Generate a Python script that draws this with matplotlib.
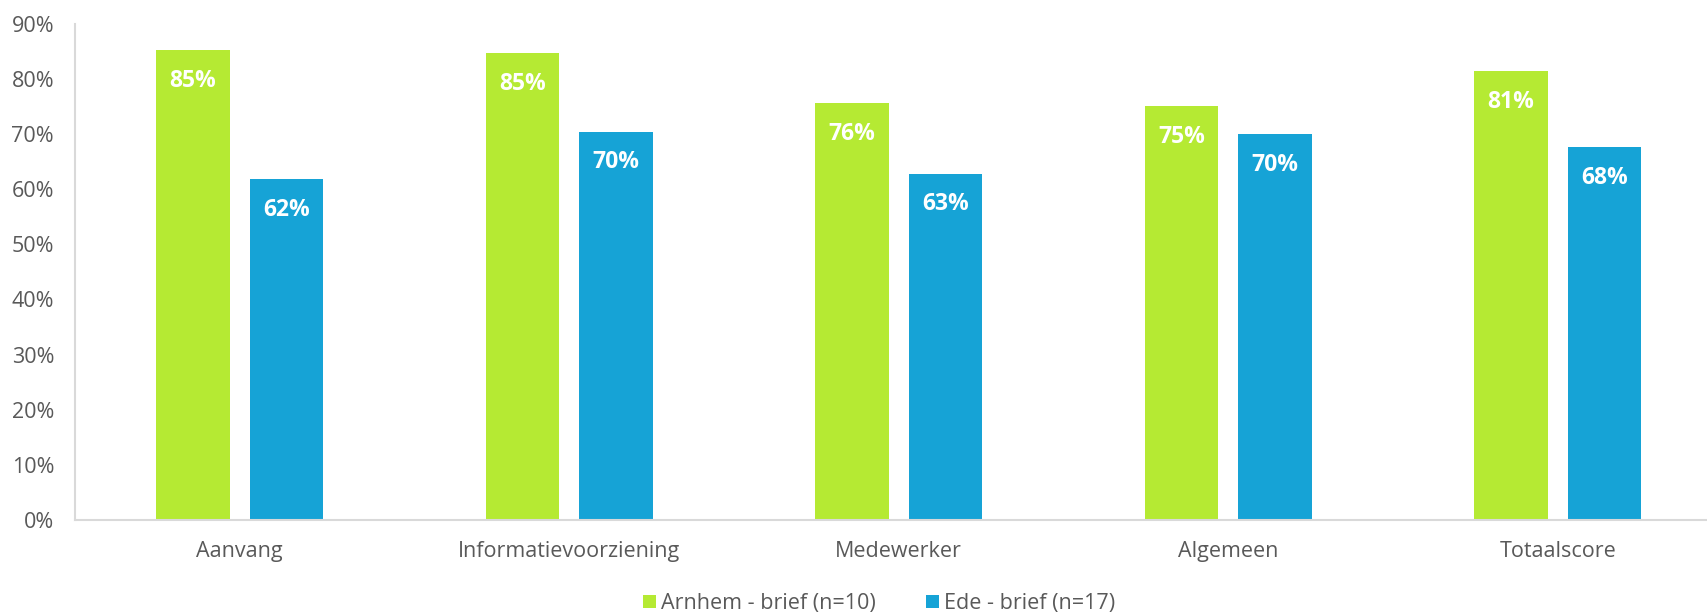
import matplotlib.pyplot as plt
import numpy as np

plt.rcParams['font.family'] = ['Open Sans', 'DejaVu Sans']

categories = ['Aanvang', 'Informatievoorziening', 'Medewerker', 'Algemeen', 'Totaalscore']
arnhem = [85.2, 84.6, 75.6, 75.0, 81.4]
ede = [61.8, 70.4, 62.8, 69.9, 67.6]
series_names = ['Arnhem - brief (n=10)', 'Ede - brief (n=17)']
yticks = [0, 10, 20, 30, 40, 50, 60, 70, 80, 90]

green = '#B5EA33'
blue = '#16A3D6'
grey_text = '#595959'

fig = plt.figure(figsize=(17.07, 6.14), dpi=100)
ax = fig.add_axes([0.0439, 0.1531, 0.9652, 0.8086])

x = np.arange(len(categories))
w = 0.223
b1 = ax.bar(x - 0.142, arnhem, w, color=green, label=series_names[0])
b2 = ax.bar(x + 0.142, ede, w, color=blue, label=series_names[1])

for bars in (b1, b2):
    for rect in bars:
        v = rect.get_height()
        ax.annotate(f'{v:.0f}%', (rect.get_x() + rect.get_width() / 2, v),
                    xytext=(0, -22), textcoords='offset points',
                    ha='center', va='center', color='white',
                    fontsize=16.5, fontweight='bold')

ax.set_xlim(-0.5, 4.5)
ax.set_ylim(0, 90)
ax.set_yticks(yticks)
ax.set_yticklabels([f'{t}%' for t in yticks])
ax.set_xticks(x)
ax.set_xticklabels(categories)
ax.tick_params(axis='both', length=0, labelsize=15.5, labelcolor=grey_text)
ax.tick_params(axis='y', pad=15)
ax.tick_params(axis='x', pad=15)

for s in ('top', 'right'):
    ax.spines[s].set_visible(False)
for s in ('left', 'bottom'):
    ax.spines[s].set_color('#D9D9D9')
    ax.spines[s].set_linewidth(1.5)

fig.legend(loc='center', bbox_to_anchor=(0.515, 0.017), ncol=2, frameon=False,
           fontsize=15.5, labelcolor=grey_text, handlelength=0.6, handleheight=0.6,
           handletextpad=0.25, columnspacing=2.3)

fig.savefig('out.png', dpi=100)
